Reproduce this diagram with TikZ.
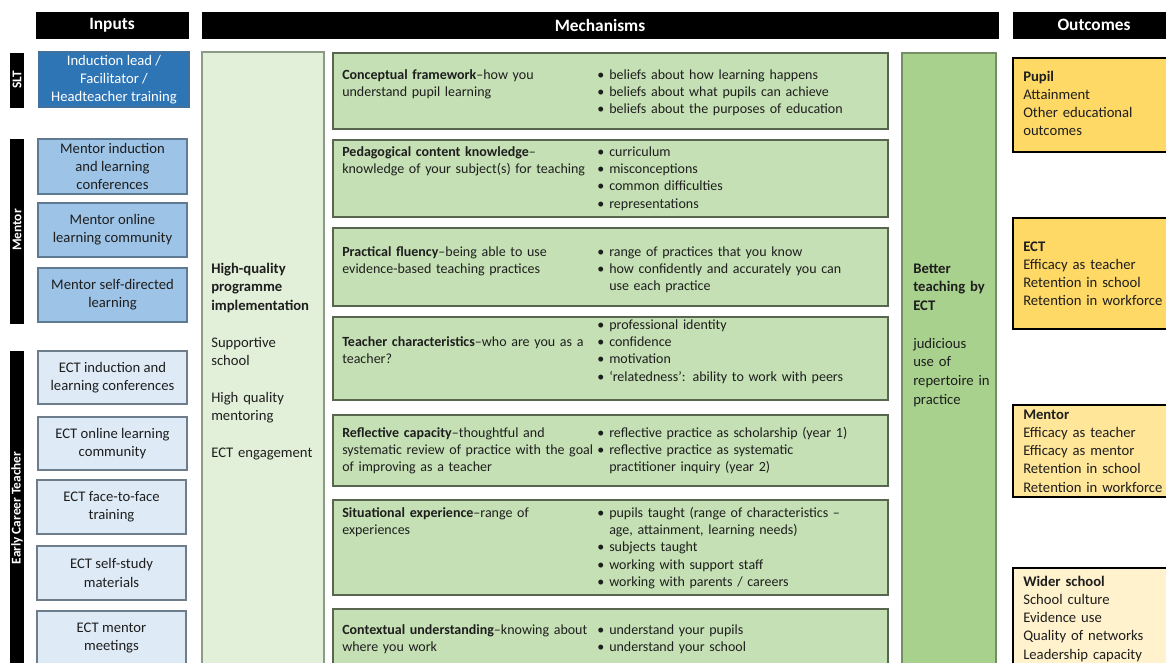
\documentclass[tikz,border=0pt]{standalone}
\usepackage{fontspec}
\setmainfont{Carlito}
\definecolor{dblue}{HTML}{2E75B6}
\definecolor{dblueb}{HTML}{41719C}
\definecolor{mblue}{HTML}{9DC3E6}
\definecolor{mblueb}{HTML}{5F7A93}
\definecolor{lblue}{HTML}{DEEBF7}
\definecolor{lblueb}{HTML}{6E7D8C}
\definecolor{hqgreen}{HTML}{E2F0D9}
\definecolor{hqgreenb}{HTML}{8C9A88}
\definecolor{mgreen}{HTML}{C5E0B4}
\definecolor{mgreenb}{HTML}{58654F}
\definecolor{bgreen}{HTML}{A9D18E}
\definecolor{bgreenb}{HTML}{738F63}
\definecolor{gold}{HTML}{FFD966}
\definecolor{lgold}{HTML}{FFE699}
\definecolor{pgold}{HTML}{FFF2CC}
\definecolor{txt}{HTML}{1E1E1E}
\newcommand\mkbox[7]{\node[#2, minimum width={(#5-#3)*0.75pt}, minimum height={(#6-#4)*0.75pt}] (#1) at ({(#3+#5)/2},{(#4+#6)/2}) {#7};}
\newcommand\bul{\makebox[9pt][l]{•}}
\newcommand\ind{\hspace*{9pt}}
\tikzset{
  base/.style={inner sep=0pt, outer sep=0pt, rectangle},
  hdr/.style={base, fill=black, draw=black, text=white, font=\fontsize{13}{14}\selectfont\bfseries},
  sidebar/.style={base, fill=black, draw=black},
  sidelab/.style={text=white, rotate=90, inner sep=0pt, font=\fontsize{10}{11}\selectfont\bfseries},
  inbox/.style={base, line width=1.1pt, align=center, text=txt, font=\fontsize{11}{13.6}\selectfont},
  mechbox/.style={base, fill=mgreen, draw=mgreenb, line width=1.2pt},
  outbox/.style={base, draw=black, line width=1.6pt},
  ltxt/.style={anchor=base west, inner sep=0pt, align=left, text width=200pt, text=txt, font=\fontsize{10.5}{13}\selectfont},
  btxt/.style={anchor=base west, inner sep=0pt, align=left, text width=215pt, text=txt, font=\fontsize{10.5}{13}\selectfont},
  otxt/.style={anchor=base west, inner sep=0pt, align=left, text width=110pt, text=txt, font=\fontsize{11}{13.7}\selectfont},
  gtxt/.style={anchor=base west, inner sep=0pt, align=left, text width=90pt, text=txt, font=\fontsize{11}{14}\selectfont},
}
\begin{document}
\begin{tikzpicture}[x=0.75pt,y=-0.75pt]
\clip (0,0) rectangle (1166,662);
\fill[white] (0,0) rectangle (1166,662);
% headers
\mkbox{hin}{hdr}{36}{12}{188}{38}{Inputs}
\mkbox{hmech}{hdr}{202}{12}{998}{38}{Mechanisms}
\mkbox{hout}{hdr}{1013}{12}{1175}{38}{Outcomes}
% side bars
\mkbox{sslt}{sidebar}{10}{53}{23}{107}{}
\node[sidelab] (lslt) at (17,80) {SLT};
\mkbox{smen}{sidebar}{10}{139}{23}{323}{}
\node[sidelab] (lmen) at (17,230) {Mentor};
\mkbox{sect}{sidebar}{10}{351}{23}{700}{}
\node[sidelab] (lect) at (17,508) {Early Career Teacher};
% inputs
\mkbox{i1}{inbox, fill=dblue, draw=dblueb, text=white}{39}{52}{189}{107}{Induction lead /\\Facilitator /\\Headteacher training}
\mkbox{i2}{inbox, fill=mblue, draw=mblueb}{38}{139}{187}{194}{Mentor induction\\and learning\\conferences}
\mkbox{i3}{inbox, fill=mblue, draw=mblueb}{38}{203}{187}{257}{Mentor online\\learning community}
\mkbox{i4}{inbox, fill=mblue, draw=mblueb}{38}{268}{187}{322}{Mentor self-directed\\learning}
\mkbox{i5}{inbox, fill=lblue, draw=lblueb}{38}{351}{187}{404}{ECT induction and\\learning conferences}
\mkbox{i6}{inbox, fill=lblue, draw=lblueb}{38}{417}{187}{470}{ECT online learning\\community}
\mkbox{i7}{inbox, fill=lblue, draw=lblueb}{37}{480}{186}{534}{ECT face-to-face\\training}
\mkbox{i8}{inbox, fill=lblue, draw=lblueb}{37}{546}{186}{600}{ECT self-study\\materials}
\node[inbox, fill=lblue, draw=lblueb, minimum width={149*0.75pt}, minimum height={80*0.75pt}, anchor=north west] (i9) at (37,611) {};
\node[inbox, anchor=center] (i9t) at (111.5,638) {ECT mentor\\meetings};
% high-quality box
\mkbox{hq}{base, fill=hqgreen, draw=hqgreenb, line width=1.1pt}{202}{52}{324}{700}{}
\node[gtxt] (hq1) at (211,273) {\textbf{High-quality}\\\textbf{programme}\\\textbf{implementation}};
\node[gtxt] (hq2) at (211,347) {Supportive\\school};
\node[gtxt] (hq3) at (211,402) {High quality\\mentoring};
\node[gtxt] (hq4) at (211,457) {ECT engagement};
% mechanisms
\mkbox{m1}{mechbox}{333}{53}{888}{129}{}
\node[ltxt] (m1l) at (342,79) {\textbf{Conceptual framework}–how you\\understand pupil learning};
\node[btxt] (m1r) at (597,79) {\bul beliefs about how learning happens\\\bul beliefs about what pupils can achieve\\\bul beliefs about the purposes of education};
\mkbox{m2}{mechbox}{333}{140}{888}{217}{}
\node[ltxt] (m2l) at (342,156) {\textbf{Pedagogical content knowledge}–\\knowledge of your subject(s) for teaching};
\node[btxt] (m2r) at (597,156) {\bul curriculum\\\bul misconceptions\\\bul common difficulties\\\bul representations};
\mkbox{m3}{mechbox}{333}{228}{888}{306}{}
\node[ltxt] (m3l) at (342,256) {\textbf{Practical fluency}–being able to use\\evidence-based teaching practices};
\node[btxt] (m3r) at (597,256) {\bul range of practices that you know\\\bul how confidently and accurately you can\\\ind use each practice};
\mkbox{m4}{mechbox}{333}{317}{888}{400}{}
\node[ltxt] (m4l) at (342,346) {\textbf{Teacher characteristics}–who are you as a\\teacher?};
\node[btxt] (m4r) at (597,329) {\bul professional identity\\\bul confidence\\\bul motivation\\\bul ‘relatedness’: ability to work with peers};
\mkbox{m5}{mechbox}{333}{415}{888}{486}{}
\node[ltxt] (m5l) at (342,437) {\textbf{Reflective capacity}–thoughtful and\\systematic review of practice with the goal\\of improving as a teacher};
\node[btxt] (m5r) at (597,437) {\bul reflective practice as scholarship (year 1)\\\bul reflective practice as systematic\\\ind practitioner inquiry (year 2)};
\mkbox{m6}{mechbox}{333}{500}{888}{595}{}
\node[ltxt] (m6l) at (342,517) {\textbf{Situational experience}–range of\\experiences};
\node[btxt] (m6r) at (597,517) {\bul pupils taught (range of characteristics –\\\ind age, attainment, learning needs)\\\bul subjects taught\\\bul working with support staff\\\bul working with parents / careers};
\mkbox{m7}{mechbox}{333}{609}{888}{700}{}
\node[ltxt] (m7l) at (342,634) {\textbf{Contextual understanding}–knowing about\\where you work};
\node[btxt] (m7r) at (597,634) {\bul understand your pupils\\\bul understand your school};
% better teaching
\mkbox{bt}{base, fill=bgreen, draw=bgreenb, line width=1.1pt}{902}{53}{996}{700}{}
\node[gtxt, text width=70pt] (bt1) at (913,273) {\textbf{Better}\\\textbf{teaching by}\\\textbf{ECT}};
\node[gtxt, text width=70pt] (bt2) at (913,348) {judicious\\use of\\repertoire in\\practice};
% outcomes
\mkbox{o1}{outbox, fill=gold}{1013}{58}{1175}{152}{}
\node[otxt] (o1t) at (1023,81) {\textbf{Pupil}\\Attainment\\Other educational\\outcomes};
\mkbox{o2}{outbox, fill=gold}{1013}{218}{1175}{329}{}
\node[otxt] (o2t) at (1023,251) {\textbf{ECT}\\Efficacy as teacher\\Retention in school\\Retention in workforce};
\mkbox{o3}{outbox, fill=lgold}{1013}{405}{1175}{497}{}
\node[otxt] (o3t) at (1023,419) {\textbf{Mentor}\\Efficacy as teacher\\Efficacy as mentor\\Retention in school\\Retention in workforce};
\mkbox{o4}{outbox, fill=pgold}{1013}{568}{1175}{700}{}
\node[otxt] (o4t) at (1023,586) {\textbf{Wider school}\\School culture\\Evidence use\\Quality of networks\\Leadership capacity};
\end{tikzpicture}
\end{document}
